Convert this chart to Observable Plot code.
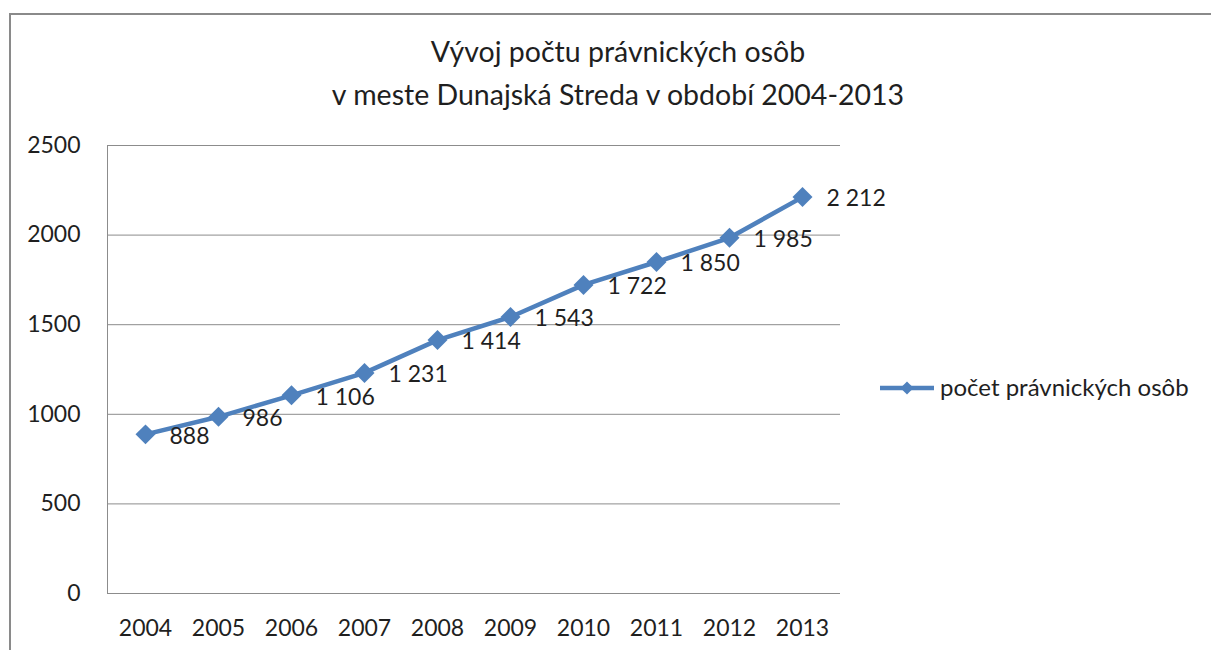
<!DOCTYPE html>
<html><head><meta charset="utf-8">
<script src="https://cdn.jsdelivr.net/npm/d3@7"></script>
<script src="https://cdn.jsdelivr.net/npm/@observablehq/plot@0.6"></script>
<style>
body{margin:0;background:#fff;font-family:Lato,"Open Sans",sans-serif;}
#wrap{position:relative;width:1211px;height:650px;overflow:hidden;background:#fff;}
#frame{position:absolute;left:9px;top:13px;width:1300px;height:800px;border:2px solid #8a8a8a;box-sizing:border-box;}
#title{position:absolute;left:0;width:1236px;top:30px;text-align:center;font-size:28.5px;line-height:43px;color:#1f1f1f;}
#chart{position:absolute;left:0;top:125px;}
#legend{position:absolute;left:878px;top:373px;}
</style></head>
<body><div id="wrap"><div id="frame"></div>
<div id="title">Vývoj počtu právnických osôb<br>v meste Dunajská Streda v období 2004-2013</div>
<div id="chart"></div><div id="legend"></div></div>
<script>
const years = ["2004","2005","2006","2007","2008","2009","2010","2011","2012","2013"];
const values = [888, 986, 1106, 1231, 1414, 1543, 1722, 1850, 1985, 2212];
const seriesName = "počet právnických osôb";
const yTicks = [0, 500, 1000, 1500, 2000, 2500];

const blue = "#4F81BD";
const grid = "#8c8c8c";
const font = "Lato, 'Open Sans', sans-serif";
const fmt = d3.formatLocale({decimal: ",", thousands: "\u00a0", grouping: [3], currency: ["", ""]}).format(",");
const data = years.map((y, i) => ({year: y, value: values[i]}));

const chart = Plot.plot({
  width: 920, height: 518,
  marginLeft: 107, marginRight: 80, marginTop: 20, marginBottom: 50,
  style: {fontFamily: font, fontSize: "23px", color: "#1f1f1f", background: "transparent", overflow: "visible"},
  x: {type: "point", domain: years, padding: 0.5, label: null},
  y: {domain: [0, 2500], label: null},
  marks: [
    Plot.gridY(yTicks, {stroke: grid, strokeOpacity: 1}),
    Plot.frame({anchor: "left", stroke: grid, strokeOpacity: 1}),
    Plot.axisY(yTicks, {tickSize: 0, tickPadding: 27, label: null, fontSize: 23, tickFormat: d => String(d)}),
    Plot.axisX({tickSize: 0, tickPadding: 26, label: null, fontSize: 23}),
    Plot.line(data, {x: "year", y: "value", stroke: blue, strokeWidth: 4.5}),
    Plot.dot(data, {x: "year", y: "value", symbol: "diamond2", r: 9, fill: blue, stroke: "none"}),
    Plot.text(data, {x: "year", y: "value", text: d => fmt(d.value), dx: 24, dy: 2, textAnchor: "start", fill: "#1f1f1f", fontSize: 23})
  ]
});
document.getElementById("chart").append(chart);

const lg = d3.select("#legend").append("svg").attr("width", 330).attr("height", 30);
lg.append("line").attr("x1", 2).attr("x2", 56).attr("y1", 15).attr("y2", 15).attr("stroke", blue).attr("stroke-width", 4.5);
lg.append("path").attr("d", d3.symbol(d3.symbolDiamond2, 110)()).attr("transform", "translate(29,15)").attr("fill", blue);
lg.append("text").attr("x", 62).attr("y", 15).attr("dy", "0.35em").attr("font-family", font).attr("font-size", 24).attr("fill", "#1f1f1f").text(seriesName);
</script>
</body></html>
